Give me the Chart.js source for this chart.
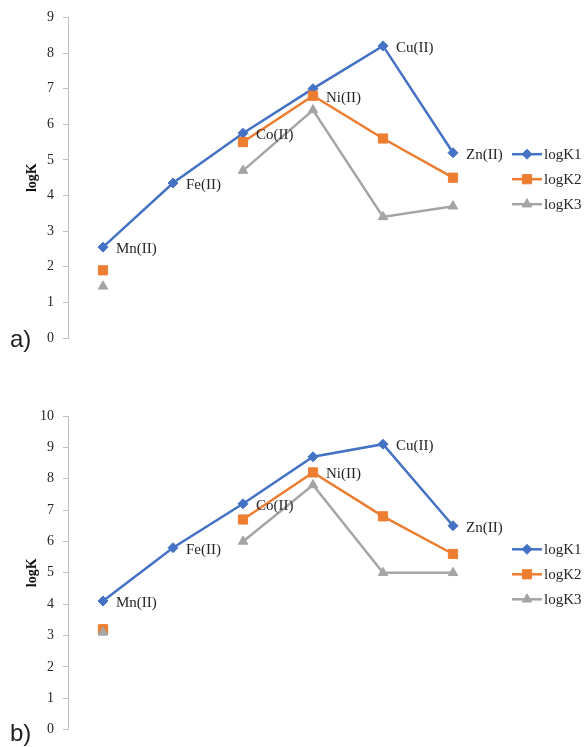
<!DOCTYPE html>
<html><head><meta charset="utf-8">
<script src="https://cdn.jsdelivr.net/npm/chart.js@4/dist/chart.umd.min.js"></script>
<style>
html,body{margin:0;padding:0;background:#fff;width:584px;height:747px;overflow:hidden}
.box{position:absolute;left:0;width:584px}
#boxA{top:0;height:360px}
#boxB{top:370px;height:377px}
.tag{position:absolute;font-family:"Liberation Sans",Arial,sans-serif;font-size:24px;line-height:28px;color:#222}
</style></head><body>
<div id="boxA" class="box"><canvas id="cA"></canvas></div>
<div id="boxB" class="box"><canvas id="cB"></canvas></div>
<div class="tag" style="left:10px;top:325px">a)</div>
<div class="tag" style="left:10px;top:719px">b)</div>
<script>
// ---- data ----
const categories = ['Mn(II)', 'Fe(II)', 'Co(II)', 'Ni(II)', 'Cu(II)', 'Zn(II)'];
const seriesNames = ['logK1', 'logK2', 'logK3'];
const aLogK1 = [2.55, 4.35, 5.75, 7.0, 8.2, 5.2];
const aLogK2 = [1.9, null, 5.5, 6.8, 5.6, 4.5];
const aLogK3 = [1.45, null, 4.7, 6.4, 3.4, 3.7];
const bLogK1 = [4.1, 5.8, 7.2, 8.7, 9.1, 6.5];
const bLogK2 = [3.2, null, 6.7, 8.2, 6.8, 5.6];
const bLogK3 = [3.1, null, 6.0, 7.8, 5.0, 5.0];
const aYMax = 9;
const bYMax = 10;
const yTitle = 'logK';
// which series each category label sits beside
const labelAnchorSeries = [0, 0, 0, 1, 0, 0];

// ---- styles ----
const colors = ['#4472C4', '#ED7D31', '#A5A5A5'];
const markers = ['rectRot', 'rect', 'triangle'];
const radii = [5, 6.5, 5.5];
const serif = '"Liberation Serif", "Times New Roman", serif';

const pointLabelPlugin = {
  id: 'pointLabels',
  afterDatasetsDraw(chart) {
    const ctx = chart.ctx;
    ctx.save();
    ctx.font = '15px ' + serif;
    ctx.fillStyle = '#262626';
    ctx.textAlign = 'left';
    ctx.textBaseline = 'middle';
    categories.forEach((c, i) => {
      const el = chart.getDatasetMeta(labelAnchorSeries[i]).data[i];
      if (el) ctx.fillText(c, el.x + 13, el.y + 2);
    });
    ctx.restore();
  }
};

const legendPlugin = {
  id: 'lineLegend',
  afterDraw(chart) {
    const ctx = chart.ctx;
    const a = chart.chartArea;
    const midY = (a.top + a.bottom) / 2 + 1.5;
    const x0 = a.right + 24;
    ctx.save();
    chart.data.datasets.forEach((ds, k) => {
      const y = midY + (k - 1) * 25;
      ctx.strokeStyle = colors[k];
      ctx.lineWidth = 2.5;
      ctx.beginPath();
      ctx.moveTo(x0, y);
      ctx.lineTo(x0 + 30, y);
      ctx.stroke();
      ctx.fillStyle = colors[k];
      ctx.strokeStyle = colors[k];
      ctx.lineWidth = 1;
      Chart.helpers.drawPoint(ctx, {pointStyle: markers[k], radius: radii[k], borderWidth: 1, rotation: 0}, x0 + 15, y);
      ctx.fillStyle = '#262626';
      ctx.font = '15px ' + serif;
      ctx.textAlign = 'left';
      ctx.textBaseline = 'middle';
      ctx.fillText(ds.label, x0 + 32, y + 1);
    });
    ctx.restore();
  }
};

function makeChart(id, vals, ymax, pad) {
  const datasets = vals.map((v, k) => ({
    label: seriesNames[k],
    data: v,
    borderColor: colors[k],
    backgroundColor: colors[k],
    borderWidth: 2.5,
    pointStyle: markers[k],
    pointRadius: radii[k],
    pointHoverRadius: radii[k],
    pointBorderWidth: 1,
    pointBorderColor: colors[k],
    pointBackgroundColor: colors[k],
    spanGaps: false,
    tension: 0,
    order: 3 - k
  }));
  return new Chart(document.getElementById(id), {
    type: 'line',
    data: {labels: categories, datasets},
    plugins: [pointLabelPlugin, legendPlugin],
    options: {
      responsive: true,
      maintainAspectRatio: false,
      animation: false,
      layout: {padding: pad},
      plugins: {legend: {display: false}, tooltip: {enabled: false}},
      scales: {
        x: {display: false, offset: true},
        y: {
          min: 0, max: ymax,
          ticks: {stepSize: 1, padding: 9, color: '#262626', font: {family: serif, size: 14}},
          border: {display: true, color: '#BFBFBF', width: 1},
          grid: {drawOnChartArea: false, drawTicks: true, tickLength: 5, color: '#BFBFBF'},
          title: {display: true, text: yTitle, color: '#111', font: {family: serif, size: 14, weight: 'bold'}, padding: {top: 4, bottom: 0}},
          afterFit(scale) { scale.width = 48; }
        }
      }
    }
  });
}

makeChart('cA', [aLogK1, aLogK2, aLogK3], aYMax, {top: 17, bottom: 22, left: 20, right: 96});
makeChart('cB', [bLogK1, bLogK2, bLogK3], bYMax, {top: 46, bottom: 10, left: 20, right: 96});
</script>
</body></html>
